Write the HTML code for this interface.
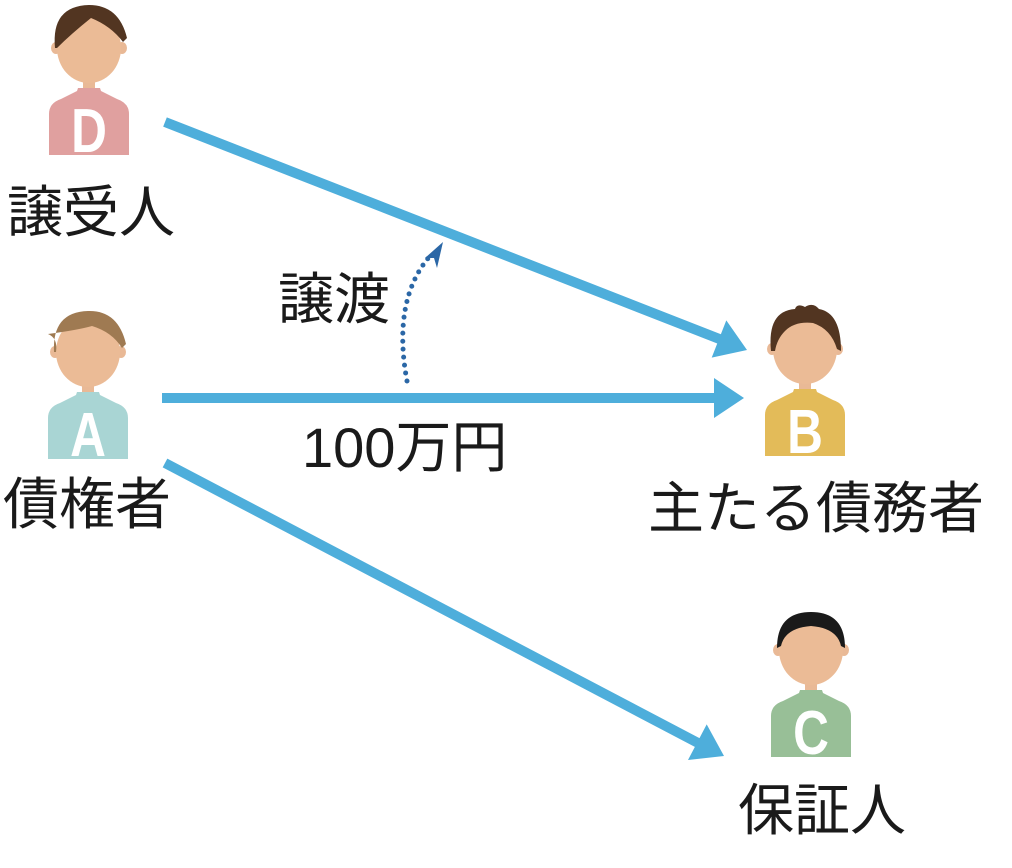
<!DOCTYPE html>
<html><head><meta charset="utf-8"><style>
html,body{margin:0;padding:0;background:#fff;}
svg{display:block;}
text{font-family:"Liberation Sans","Noto Sans CJK JP",sans-serif;}
</style></head><body>
<svg width="1012" height="868" viewBox="0 0 1012 868" xmlns="http://www.w3.org/2000/svg">
<defs>
<g id="base">
<ellipse cx="-33" cy="0" rx="5" ry="6" fill="#e9b996"/>
<ellipse cx="33" cy="0" rx="5" ry="6" fill="#e9b996"/>
<rect x="-6" y="28" width="12" height="18" fill="#e9b996"/>
<ellipse cx="0" cy="0" rx="32" ry="35" fill="#ebbb96"/>
</g>
<path id="body" d="M-40,107 L-40,66 Q-40,55 -28,51 L-12,43 L-11,40 L11,40 L12,43 L28,51 Q40,55 40,66 L40,107 Z"/>
</defs>

<g transform="translate(89,48)">
<use href="#base"/>
<use href="#body" fill="#e0a09f"/>
<path d="M-34,0 Q-38,-42 0,-43 Q30,-43 38,-10 L34,-6 Q22,-22 2,-30 Q-18,-14 -32,0 Z" fill="#523521"/>
<text transform="translate(0,104) scale(0.8,1)" font-size="62" font-weight="bold" fill="#fff" text-anchor="middle">D</text>
</g>
<g transform="translate(88,352)">
<use href="#base"/>
<use href="#body" fill="#a9d5d4"/>
<path d="M-34,0 Q-36,-40 0,-41 Q30,-42 38,-8 L34,-4 Q24,-20 4,-26 Q-10,-22 -40,-18 Q-30,-14 -32,0 Z" fill="#9f7a52"/>
<text transform="translate(0,104) scale(0.8,1)" font-size="62" font-weight="bold" fill="#fff" text-anchor="middle">A</text>
</g>
<g transform="translate(805,349)">
<use href="#base"/>
<use href="#body" fill="#e3bb59"/>
<path d="M-34,2 Q-38,-38 -10,-40 Q-8,-46 0,-42 Q8,-47 14,-40 Q36,-36 36,2 L32,0 Q26,-20 8,-26 Q-10,-28 -20,-18 Q-28,-10 -30,2 Z" fill="#523521"/>
<text transform="translate(0,104) scale(0.8,1)" font-size="62" font-weight="bold" fill="#fff" text-anchor="middle">B</text>
</g>
<g transform="translate(811,650)">
<use href="#base"/>
<use href="#body" fill="#98bf97"/>
<path d="M-34,-2 Q-34,-38 0,-38 Q34,-38 34,-2 L30,-4 Q26,-22 0,-24 Q-26,-22 -30,-4 Z" fill="#1a1a1a"/>
<text transform="translate(0,104) scale(0.8,1)" font-size="62" font-weight="bold" fill="#fff" text-anchor="middle">C</text>
</g>

<g fill="#4eaedb">
<line x1="165" y1="122" x2="722" y2="340" stroke="#4eaedb" stroke-width="10"/>
<polygon points="747,350 711.7,357.6 726.3,320.4"/>
<line x1="162" y1="398" x2="716" y2="398" stroke="#4eaedb" stroke-width="10"/>
<polygon points="744,398 714,378 714,418"/>
<line x1="165" y1="463" x2="700" y2="744" stroke="#4eaedb" stroke-width="10"/>
<polygon points="724,756 688,760 706.7,724.4"/>
</g>
<path d="M407,381 Q392,300 430,256" fill="none" stroke="#2b67a6" stroke-width="5" stroke-linecap="round" stroke-dasharray="0 8"/>
<polygon points="443,242 425,258 434,258 437,268" fill="#2b67a6"/>

<g font-size="56" fill="#1a1a1a">
<text x="7" y="232">譲受人</text>
<text x="3" y="524">債権者</text>
<text x="278" y="319">譲渡</text>
<text x="302" y="467">100万円</text>
<text x="648" y="528">主たる債務者</text>
<text x="738" y="830">保証人</text>
</g>
</svg>
</body></html>
